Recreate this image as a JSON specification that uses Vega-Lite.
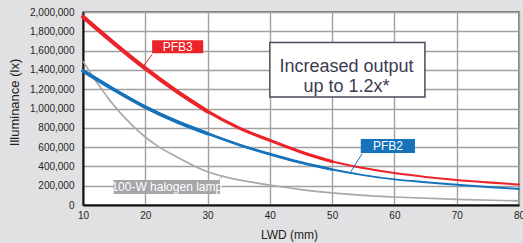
{
  "$schema": "https://vega.github.io/schema/vega-lite/v6.json",
  "autosize": {"type": "none"},
  "padding": {"left": 83, "top": 12, "right": 4, "bottom": 38},
  "width": 436,
  "height": 193,
  "background": "#e1e1e3",
  "config": {
    "font": "Liberation Sans",
    "view": {"fill": "white", "stroke": "#5e5e5e", "strokeWidth": 1.5},
    "axis": {"labelFont": "Liberation Sans", "titleFont": "Liberation Sans", "labelColor": "#231f20", "titleColor": "#231f20", "titleFontWeight": "normal", "gridColor": "#a0a0a0", "gridWidth": 1.4, "domainColor": "#111111", "domainWidth": 2, "ticks": false, "labelFlush": false}
  },
  "datasets": {
    "curves": [
      {"s": "PFB3", "x": 10, "y": 1950000}, {"s": "PFB3", "x": 15, "y": 1675000}, {"s": "PFB3", "x": 20, "y": 1415000}, {"s": "PFB3", "x": 25, "y": 1180000}, {"s": "PFB3", "x": 30, "y": 970000}, {"s": "PFB3", "x": 35, "y": 800000}, {"s": "PFB3", "x": 40, "y": 670000}, {"s": "PFB3", "x": 45, "y": 550000}, {"s": "PFB3", "x": 50, "y": 450000}, {"s": "PFB3", "x": 55, "y": 383000}, {"s": "PFB3", "x": 60, "y": 331000}, {"s": "PFB3", "x": 65, "y": 291000}, {"s": "PFB3", "x": 70, "y": 259000}, {"s": "PFB3", "x": 75, "y": 234000}, {"s": "PFB3", "x": 80, "y": 212000},
      {"s": "PFB2", "x": 10, "y": 1390000}, {"s": "PFB2", "x": 15, "y": 1195000}, {"s": "PFB2", "x": 20, "y": 1015000}, {"s": "PFB2", "x": 25, "y": 865000}, {"s": "PFB2", "x": 30, "y": 740000}, {"s": "PFB2", "x": 35, "y": 625000}, {"s": "PFB2", "x": 40, "y": 527000}, {"s": "PFB2", "x": 45, "y": 440000}, {"s": "PFB2", "x": 50, "y": 368000}, {"s": "PFB2", "x": 55, "y": 310000}, {"s": "PFB2", "x": 60, "y": 265000}, {"s": "PFB2", "x": 65, "y": 236000}, {"s": "PFB2", "x": 70, "y": 210000}, {"s": "PFB2", "x": 75, "y": 187000}, {"s": "PFB2", "x": 80, "y": 166000},
      {"s": "Halogen", "x": 10, "y": 1490000}, {"s": "Halogen", "x": 11, "y": 1390000}, {"s": "Halogen", "x": 12, "y": 1290000}, {"s": "Halogen", "x": 13, "y": 1200000}, {"s": "Halogen", "x": 14, "y": 1110000}, {"s": "Halogen", "x": 15, "y": 1030000}, {"s": "Halogen", "x": 16, "y": 955000}, {"s": "Halogen", "x": 18, "y": 820000}, {"s": "Halogen", "x": 20, "y": 705000}, {"s": "Halogen", "x": 22, "y": 610000}, {"s": "Halogen", "x": 25, "y": 500000}, {"s": "Halogen", "x": 28, "y": 400000}, {"s": "Halogen", "x": 30, "y": 345000}, {"s": "Halogen", "x": 35, "y": 260000}, {"s": "Halogen", "x": 40, "y": 207000}, {"s": "Halogen", "x": 45, "y": 160000}, {"s": "Halogen", "x": 50, "y": 125000}, {"s": "Halogen", "x": 55, "y": 100000}, {"s": "Halogen", "x": 60, "y": 83000}, {"s": "Halogen", "x": 70, "y": 58000}, {"s": "Halogen", "x": 80, "y": 42000}
    ]
  },
  "encoding": {
    "x": {"field": "x", "type": "quantitative", "scale": {"domain": [10, 80], "nice": false}, "axis": {"values": [10, 20, 30, 40, 50, 60, 70, 80], "title": "LWD (mm)", "labelFontSize": 10, "labelPadding": 5, "titleFontSize": 12, "titlePadding": 9, "titleX": 206, "titleAlign": "center"}},
    "y": {"field": "y", "type": "quantitative", "scale": {"domain": [0, 2000000], "nice": false}, "axis": {"values": [0, 200000, 400000, 600000, 800000, 1000000, 1200000, 1400000, 1600000, 1800000, 2000000], "format": ",d", "title": "Illuminance (lx)", "labelFontSize": 10, "labelPadding": 9, "titleFontSize": 13, "titlePadding": 8, "titleY": 90}}
  },
  "layer": [
    {
      "data": {"name": "curves"},
      "transform": [{"filter": "datum.s === 'Halogen'"}],
      "mark": {"type": "line", "color": "#a7a8ab", "strokeWidth": 1.7, "interpolate": "monotone"}
    },
    {
      "data": {"name": "curves"},
      "transform": [{"filter": "datum.s === 'PFB2'"}],
      "mark": {"type": "line", "color": "#1572bb", "strokeWidth": 1.9, "interpolate": "monotone", "strokeCap": "round"}
    },
    {
      "data": {"name": "curves"},
      "transform": [{"filter": "datum.s === 'PFB2' && datum.x <= 50"}],
      "mark": {"type": "line", "color": "#1572bb", "strokeWidth": 2.7, "interpolate": "monotone", "strokeCap": "round"}
    },
    {
      "data": {"name": "curves"},
      "transform": [{"filter": "datum.s === 'PFB2' && datum.x <= 30"}],
      "mark": {"type": "line", "color": "#1572bb", "strokeWidth": 3.6, "interpolate": "monotone", "strokeCap": "round"}
    },
    {
      "data": {"name": "curves"},
      "transform": [{"filter": "datum.s === 'PFB3'"}],
      "mark": {"type": "line", "color": "#ec2329", "strokeWidth": 2.1, "interpolate": "monotone", "strokeCap": "round"}
    },
    {
      "data": {"name": "curves"},
      "transform": [{"filter": "datum.s === 'PFB3' && datum.x <= 50"}],
      "mark": {"type": "line", "color": "#ec2329", "strokeWidth": 3.1, "interpolate": "monotone", "strokeCap": "round"}
    },
    {
      "data": {"name": "curves"},
      "transform": [{"filter": "datum.s === 'PFB3' && datum.x <= 30"}],
      "mark": {"type": "line", "color": "#ec2329", "strokeWidth": 4.1, "interpolate": "monotone", "strokeCap": "round"}
    },
    {
      "data": {"values": [{"x": 21.1, "y": 1560000, "x2": 19.7, "y2": 1440000}]},
      "mark": {"type": "rule", "color": "#ec2329", "strokeWidth": 1},
      "encoding": {"x2": {"field": "x2"}, "y2": {"field": "y2"}}
    },
    {
      "data": {"values": [{"x": 54.8, "y": 530000, "x2": 53.0, "y2": 345000}]},
      "mark": {"type": "rule", "color": "#1572bb", "strokeWidth": 1},
      "encoding": {"x2": {"field": "x2"}, "y2": {"field": "y2"}}
    },
    {
      "data": {"values": [{"x": 31.9, "y": 270000, "x2": 32.6, "y2": 305000}]},
      "mark": {"type": "rule", "color": "#a7a8ab", "strokeWidth": 1},
      "encoding": {"x2": {"field": "x2"}, "y2": {"field": "y2"}}
    },
    {
      "data": {"values": [{"x": 21.1, "x2": 29.3, "y": 1573000, "y2": 1707000}]},
      "mark": {"type": "rect", "color": "#ec2329"},
      "encoding": {"x2": {"field": "x2"}, "y2": {"field": "y2"}}
    },
    {
      "data": {"values": [{"x": 54.6, "x2": 63.3, "y": 538000, "y2": 683000}]},
      "mark": {"type": "rect", "color": "#1572bb"},
      "encoding": {"x2": {"field": "x2"}, "y2": {"field": "y2"}}
    },
    {
      "data": {"values": [{"x": 14.9, "x2": 32.0, "y": 114000, "y2": 259000}]},
      "mark": {"type": "rect", "color": "#a5a6aa", "opacity": 1},
      "encoding": {"x2": {"field": "x2"}, "y2": {"field": "y2"}}
    },
    {
      "data": {"values": [{"x": 40.0, "x2": 64.9, "y": 1120000, "y2": 1683000}]},
      "mark": {"type": "rect", "fill": "white", "stroke": "#4a4a5e", "strokeWidth": 1.5},
      "encoding": {"x2": {"field": "x2"}, "y2": {"field": "y2"}}
    },
    {
      "data": {"values": [{"x": 25.2, "y": 1640000, "t": "PFB3"}, {"x": 58.95, "y": 610000, "t": "PFB2"}, {"x": 23.45, "y": 186000, "t": "100-W halogen lamp"}]},
      "mark": {"type": "text", "color": "white", "fontSize": 12, "font": "Liberation Sans", "align": "center", "baseline": "middle"},
      "encoding": {"text": {"field": "t"}}
    },
    {
      "data": {"values": [{"x": 52.3, "y": 1430000, "t": "Increased output\nup to 1.2x*"}]},
      "mark": {"type": "text", "color": "#3b3b4f", "fontSize": 18, "font": "Liberation Sans", "align": "center", "baseline": "middle", "lineBreak": "\n", "lineHeight": 20},
      "encoding": {"text": {"field": "t"}}
    }
  ]
}
